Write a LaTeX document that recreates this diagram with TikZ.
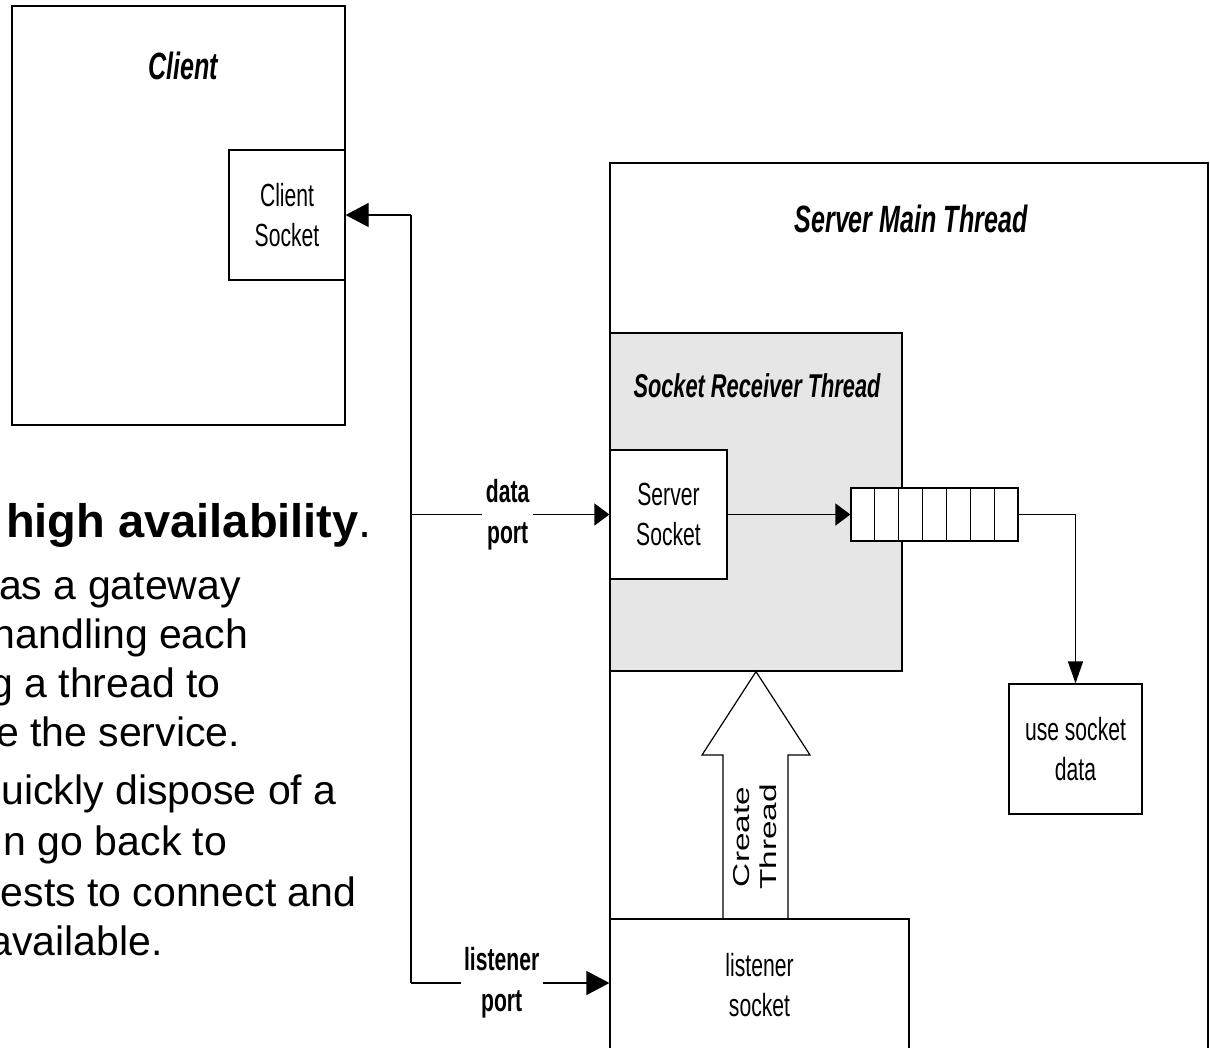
\documentclass[tikz,border=0pt]{standalone}
\usepackage{fontspec}
\setmainfont{Liberation Sans}
\newfontfamily\narrowsans[FakeStretch=0.66]{Liberation Sans}
\newfontfamily\widesans[FakeStretch=1.45]{Liberation Sans}
\usetikzlibrary{arrows.meta,calc}
\definecolor{srtgray}{HTML}{E6E6E6}
\begin{document}
\begin{tikzpicture}[x=1pt,y=-1pt,
  ln/.style={line width=1.2pt, black},
  box/.style={draw, line width=1.2pt, inner sep=0pt, align=center,
    font=\narrowsans\fontsize{32}{40}\selectfont},
  ttl/.style={font=\narrowsans\bfseries\itshape\fontsize{38}{44}\selectfont, anchor=base, inner sep=0pt},
  portlbl/.style={font=\narrowsans\bfseries\fontsize{32}{41}\selectfont, align=center, fill=white, inner xsep=3.5pt, inner ysep=1pt},
  body/.style={font=\fontsize{41}{48}\selectfont, anchor=base, inner sep=0pt},
  arrA/.style={-{Triangle[length=23pt,width=24pt]}},
  arrB/.style={-{Triangle[length=15pt,width=22pt]}},
  arrC/.style={-{Triangle[length=22pt,width=15pt]}}
]
\useasboundingbox (0,0) rectangle (1210,1047);
\clip (0,0) rectangle (1210,1047);

% left text (cut off at the left edge, as in the reference)
\node[body, font=\fontsize{47}{56}\selectfont] (t0) at (189,537) {\textbf{high availability}.};
\node[body] (t1) at (120,599) {as a gateway};
\node[body] (t2) at (120.5,648) {handling each};
\node[body] (t3) at (105.5,697) {g a thread to};
\node[body] (t4) at (118,746) {e the service.};
\node[body] (t5) at (169,804) {uickly dispose of a};
\node[body] (t6) at (115.5,855) {n go back to};
\node[body] (t7) at (178.5,906) {ests to connect and};
\node[body] (t8) at (76,955) {available.};

% client
\node[box, minimum width=333pt, minimum height=419pt] (client) at (178.5,215.5) {};
\node[ttl] (clientT) at (183,79) {Client};
\node[box, minimum width=116pt, minimum height=130pt] (csock) at (287,215) {Client\\Socket};

% server
\node[box, minimum width=598pt, minimum height=897pt] (main) at (909,611.5) {};
\node[ttl] (mainT) at (911,232) {Server Main Thread};
\node[box, fill=srtgray, minimum width=292pt, minimum height=338pt] (srt) at (756,502) {};
\node[ttl, font=\narrowsans\bfseries\itshape\fontsize{33}{40}\selectfont] (srtT) at (757,397) {Socket Receiver Thread};
\node[box, fill=white, minimum width=117pt, minimum height=129pt] (ssock) at (668.5,514.5) {Server\\Socket};
\node[box, fill=white, minimum width=167pt, minimum height=53pt] (queue) at (934.5,514.5) {};
\foreach \i in {1,...,6}
  \draw[ln] ($(queue.north west)!\i/7!(queue.north east)$) -- ($(queue.south west)!\i/7!(queue.south east)$);
\node[box, minimum width=133pt, minimum height=130pt] (usedata) at (1075.5,749) {use socket\\data};

% create-thread block arrow
\draw[ln, fill=white, line join=miter] (723,919) -- (723,755) -- (702,755) -- (srt.south) -- (810,755) -- (788,755) -- (788,919);
\node[box, minimum width=299pt, minimum height=132pt] (lsock) at (759.5,985) {listener\\socket};
\node[rotate=90, font=\widesans\fontsize{23}{27}\selectfont, align=center, inner sep=0pt] (ct) at (755,837) {Create\\Thread};

% connectors
\coordinate (busx) at (411,0);
\coordinate (busTop) at (busx |- csock.east);
\coordinate (busData) at (busx |- ssock.west);
\coordinate (busBot) at (411,983);
\draw[ln] (busTop) -- (busBot);
\draw[ln, arrA] (busTop) -- (csock.east);
\draw[ln, arrB] (busData) -- node[portlbl, pos=0.487] (dp) {data\\port} (ssock.west);
\draw[ln, arrA] (busBot) -- node[portlbl, pos=0.457] (lp) {listener\\port} (lsock.west |- busBot);
\draw[ln, arrB] (ssock.east) -- (queue.west);
\draw[ln, arrC] (queue.east) -| (usedata.north);
\end{tikzpicture}
\end{document}
